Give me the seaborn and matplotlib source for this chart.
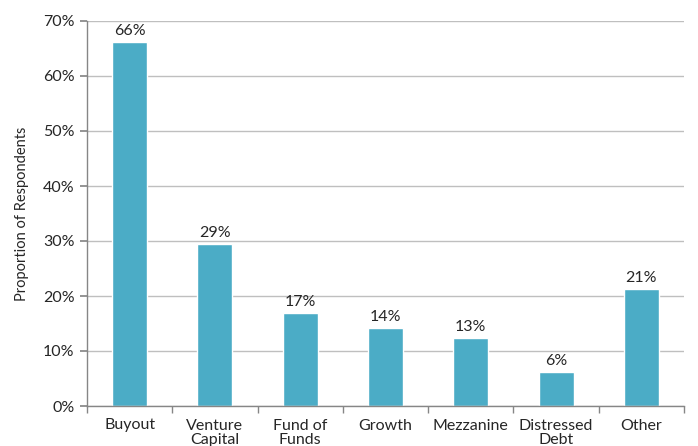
import matplotlib
matplotlib.use("Agg")
import matplotlib.pyplot as plt
import seaborn as sns
import pandas as pd
from matplotlib.ticker import FuncFormatter, FixedLocator

categories = ["Buyout", "Venture\nCapital", "Fund of\nFunds", "Growth",
              "Mezzanine", "Distressed\nDebt", "Other"]
values = [66.1, 29.4, 16.9, 14.2, 12.4, 6.2, 21.3]
value_labels = ["66%", "29%", "17%", "14%", "13%", "6%", "21%"]
y_ticks = [0, 10, 20, 30, 40, 50, 60, 70]

sns.set_theme(style="white")
plt.rcParams["font.family"] = ["Lato", "DejaVu Sans"]

df = pd.DataFrame({"cat": categories, "val": values})

fig = plt.figure(figsize=(6.98, 4.46), dpi=100)
ax = fig.add_axes([87/698, 40/446, (684-87)/698, (406-21)/446])

sns.barplot(data=df, x="cat", y="val", color="#4BACC6", saturation=1,
            width=0.41, ax=ax)

ax.set_ylim(0, 70)
ax.set_xlim(-0.5, len(categories) - 0.5)
ax.set_yticks(y_ticks)
ax.yaxis.set_major_formatter(FuncFormatter(lambda v, p: f"{int(v)}%"))
ax.grid(axis="y", color="#BFBFBF", linewidth=1)
ax.set_axisbelow(True)

for s in ["top", "right"]:
    ax.spines[s].set_visible(False)
for s in ["left", "bottom"]:
    ax.spines[s].set_color("#868686")
    ax.spines[s].set_linewidth(1)

ax.tick_params(axis="y", length=5, color="#868686", labelsize=11.5,
               labelcolor="#262626", pad=4, left=True)
ax.tick_params(axis="x", which="major", length=0, labelsize=11.5,
               labelcolor="#262626", pad=9)
for t in ax.get_xticklabels():
    t.set_linespacing(1.05)
ax.xaxis.set_minor_locator(FixedLocator([i - 0.5 for i in range(len(categories) + 1)]))
ax.tick_params(axis="x", which="minor", length=5, color="#868686", bottom=True)

ax.set_xlabel("")
ax.set_ylabel("Proportion of Respondents", fontsize=10.5, color="#262626", labelpad=10)

for i, (v, lab) in enumerate(zip(values, value_labels)):
    ax.annotate(lab, (i, v), xytext=(0, 3), textcoords="offset points",
                ha="center", va="bottom", fontsize=11.5, color="#262626")

fig.savefig("out.png", dpi=100)
